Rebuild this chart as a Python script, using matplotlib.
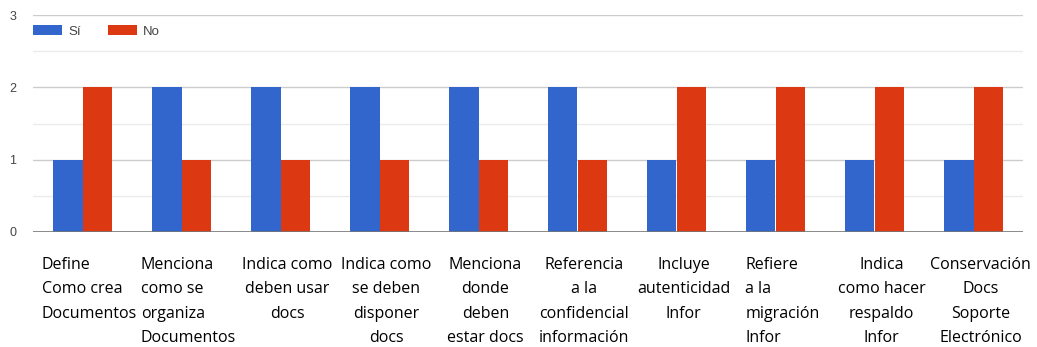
import matplotlib.pyplot as plt
import numpy as np

# datos de la encuesta
categorias = [
    "Define\nComo crea\nDocumentos",
    "Menciona\ncomo se\norganiza\nDocumentos",
    "Indica como\ndeben usar\ndocs",
    "Indica como\nse deben\ndisponer\ndocs",
    "Menciona\ndonde\ndeben\nestar docs",
    "Referencia\na la\nconfidencial\ninformación",
    "Incluye\nautenticidad\nInfor",
    "Refiere\na la\nmigración\nInfor",
    "Indica\ncomo hacer\nrespaldo\nInfor",
    "Conservación\nDocs\nSoporte\nElectrónico",
]
si = [1, 2, 2, 2, 2, 2, 1, 1, 1, 1]
no = [2, 1, 1, 1, 1, 1, 2, 2, 2, 2]
alineacion = ['left', 'left', 'center', 'center', 'center',
              'center', 'center', 'left', 'center', 'center']

azul = '#3366cc'
rojo = '#dc3912'

fig = plt.figure(figsize=(10.37, 3.47), dpi=100)
ax = fig.add_axes([33 / 1037, 1 - 232 / 347, 990 / 1037, 217 / 347])

x = np.arange(len(categorias))
w = 0.3
ax.bar(x - w / 2, si, width=w, color=azul, label='Sí', zorder=3)
ax.bar(x + w / 2, no, width=w, color=rojo, label='No', zorder=3)

ax.set_xlim(-0.5, len(categorias) - 0.5)
ax.set_ylim(0, 3)

# rejilla
for y in np.arange(0.5, 3.01, 0.5):
    c = '#cccccc' if y % 1 == 0 else '#ebebeb'
    ax.axhline(y, color=c, lw=1, zorder=1)
ax.axhline(0, color='#777777', lw=1.2, zorder=4)

for s in ax.spines.values():
    s.set_visible(False)
ax.set_xticks([])
ax.set_yticks([0, 1, 2, 3])
ax.tick_params(axis='y', length=0, pad=12, labelsize=9, labelcolor='#444444')
for t in ax.get_yticklabels():
    t.set_fontfamily('Liberation Sans')

# etiquetas de categoría
for i, (lab, al) in enumerate(zip(categorias, alineacion)):
    ax.text(i + 0.07, -0.115, lab, transform=ax.get_xaxis_transform(),
            ha='center', va='top', multialignment=al,
            fontsize=11.5, family='Open Sans', linespacing=1.69, color='black')

leg = ax.legend(loc='center left', bbox_to_anchor=(0.0, 0.925), ncol=2,
                frameon=False, handlelength=2.2, handleheight=0.8,
                columnspacing=2.0, handletextpad=0.5,
                borderaxespad=0, borderpad=0,
                prop={'family': 'Liberation Sans', 'size': 9.5})
for t in leg.get_texts():
    t.set_color('#444444')

fig.savefig('out.png', dpi=100)
